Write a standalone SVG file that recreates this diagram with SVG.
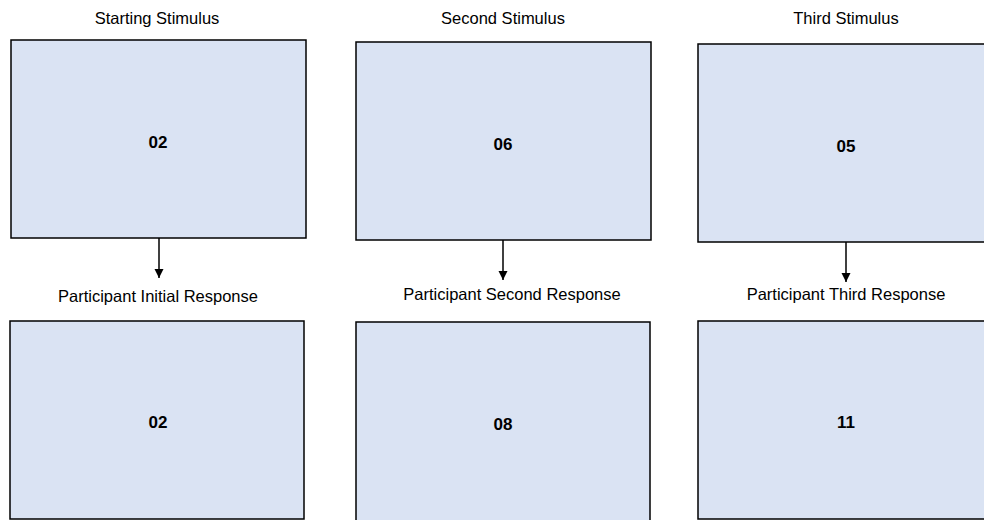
<svg xmlns="http://www.w3.org/2000/svg" width="984" height="520" viewBox="0 0 984 520">
<style>
.box{fill:#dae3f3;stroke:#000;stroke-width:1.5}
.lbl{font-family:"Liberation Sans",Arial,sans-serif;font-size:16.5px;fill:#000;text-anchor:middle}
.num{font-family:"Liberation Sans",Arial,sans-serif;font-size:17px;font-weight:bold;fill:#000;text-anchor:middle}
.conn{stroke:#000;stroke-width:1.5;fill:none}
</style>
<defs>
<marker id="arr" viewBox="0 0 10 10" refX="10" refY="5" markerUnits="userSpaceOnUse" markerWidth="9" markerHeight="11" orient="auto">
<path d="M0,0 L10,5 L0,10 z" fill="#000"/>
</marker>
</defs>
<rect width="984" height="520" fill="#fff"/>
<g id="n1"><text class="lbl" x="157" y="24">Starting Stimulus</text><rect class="box" x="11" y="40" width="295" height="198"/><text class="num" x="158" y="148">02</text></g>
<g id="n2"><text class="lbl" x="503" y="24">Second Stimulus</text><rect class="box" x="356" y="42" width="295" height="198"/><text class="num" x="503" y="150">06</text></g>
<g id="n3"><text class="lbl" x="846" y="24">Third Stimulus</text><rect class="box" x="698" y="44" width="296" height="198"/><text class="num" x="846" y="152">05</text></g>
<g id="n4"><text class="lbl" x="158" y="302">Participant Initial Response</text><rect class="box" x="10" y="321" width="294" height="198"/><text class="num" x="158" y="428">02</text></g>
<g id="n5"><text class="lbl" x="512" y="300">Participant Second Response</text><rect class="box" x="356" y="322" width="294" height="202"/><text class="num" x="503" y="430">08</text></g>
<g id="n6"><text class="lbl" x="846" y="300">Participant Third Response</text><rect class="box" x="698" y="321" width="296" height="198"/><text class="num" x="846" y="428">11</text></g>
<g id="connectors">
<line class="conn" x1="159" y1="238" x2="159" y2="278" marker-end="url(#arr)"/>
<line class="conn" x1="503" y1="240" x2="503" y2="280" marker-end="url(#arr)"/>
<line class="conn" x1="846" y1="242" x2="846" y2="282" marker-end="url(#arr)"/>
</g>
</svg>
